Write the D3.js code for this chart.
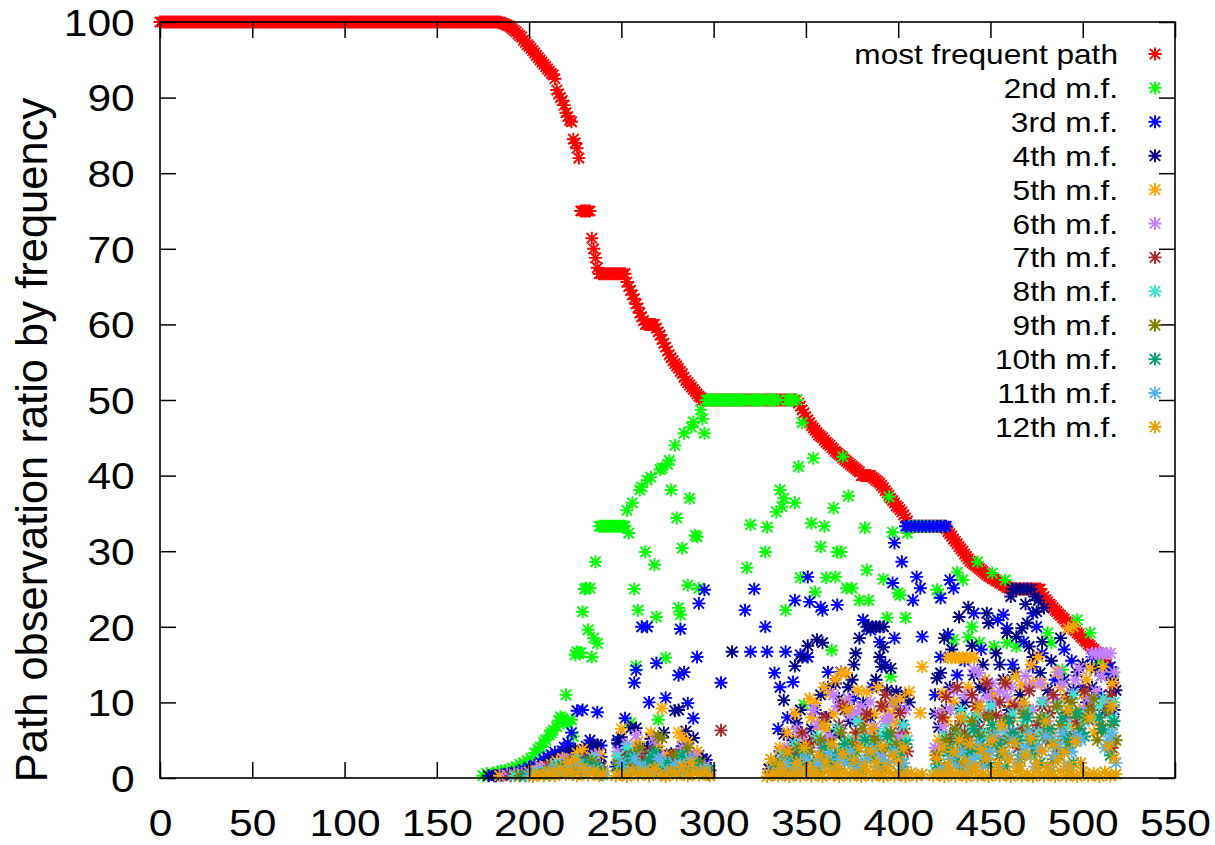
<!DOCTYPE html>
<html><head><meta charset="utf-8">
<script src="https://cdn.jsdelivr.net/npm/d3@7"></script>
<style>body{margin:0;background:#fff}svg{display:block}</style>
</head><body>
<svg id="chart" width="1215" height="845"></svg>
<script>
const seriesNames = ["most frequent path","2nd m.f.","3rd m.f.","4th m.f.","5th m.f.","6th m.f.","7th m.f.","8th m.f.","9th m.f.","10th m.f.","11th m.f.","12th m.f."];
const seriesColors = ["#ff0000","#00ff00","#0000ff","#00008b","#ffa500","#c080ff","#a52a2a","#40e0d0","#808000","#009e73","#56b4e9","#e69f00"];
const xTicks = [0,50,100,150,200,250,300,350,400,450,500,550];
const yTicks = [0,10,20,30,40,50,60,70,80,90,100];
const yAxisTitle = "Path observation ratio by frequency";

// most frequent path: constant runs [xStart, xEnd, value] and single points [x, value]
const mfRuns = [[0,184,100],[228,233,75],[238,252,66.7],[263,268,60],[294,345,50],[380,385,40],[406,425,33.3],[461,477,25]];
const mfPoints = [[185,99.9],[186,99.8],[187,99.7],[188,99.6],[189,99.5],[190,99.3],[191,99.1],[192,98.9],[193,98.7],[194,98.4],[195,98.2],[196,98.0],[197,97.6],[198,97.3],[199,97.0],[200,96.8],[201,96.5],[202,96.2],[203,95.9],[204,95.6],[205,95.3],[206,95.0],[207,94.7],[208,94.4],[209,94.1],[210,93.8],[211,93.5],[212,93.2],[213,93.0],[214,92.5],[215,91.0],[216,90.5],[217,90.0],[218,89.6],[219,89.0],[220,88.0],[221,87.5],[222,87.0],[223,86.8],[224,84.5],[225,84.0],[226,83.3],[227,82.0],[234,71.4],[235,70.0],[236,68.8],[237,67.5],[253,65.6],[254,65.0],[255,64.5],[256,63.9],[257,63.4],[258,62.7],[259,62.2],[260,61.5],[261,61.0],[262,60.5],[269,59.5],[270,59.0],[271,58.6],[272,58.0],[273,57.5],[274,57.0],[275,56.5],[276,56.0],[277,55.6],[278,55.2],[279,54.8],[280,54.5],[281,54.2],[282,53.8],[283,53.5],[284,53.0],[285,52.6],[286,52.3],[287,52.0],[288,51.7],[289,51.4],[290,51.1],[291,50.8],[292,50.5],[293,50.3],[346,49.6],[347,49.2],[348,48.7],[349,48.3],[350,47.8],[351,47.4],[352,47.0],[353,46.6],[354,46.3],[355,46.0],[356,45.7],[357,45.4],[358,45.2],[359,45.0],[360,44.7],[361,44.4],[362,44.2],[363,44.0],[364,43.7],[365,43.5],[366,43.2],[367,43.0],[368,42.8],[369,42.6],[370,42.3],[371,42.1],[372,41.9],[373,41.7],[374,41.5],[375,41.3],[376,41.1],[377,40.9],[378,40.7],[379,40.5],[386,39.8],[387,39.6],[388,39.4],[389,39.2],[390,39.0],[391,38.7],[392,38.4],[393,38.0],[394,37.7],[395,37.4],[396,37.0],[397,36.7],[398,36.4],[399,36.0],[400,35.8],[401,35.5],[402,35.2],[403,34.8],[404,34.4],[405,34.0],[426,33.0],[427,32.6],[428,32.3],[429,32.0],[430,31.6],[431,31.3],[432,31.0],[433,30.6],[434,30.3],[435,30.0],[436,29.6],[437,29.3],[438,29.0],[439,28.7],[440,28.5],[441,28.3],[442,28.1],[443,27.9],[444,27.7],[445,27.5],[446,27.3],[447,27.1],[448,26.9],[449,26.7],[450,26.6],[451,26.4],[452,26.3],[453,26.1],[454,26.0],[455,25.8],[456,25.7],[457,25.5],[458,25.4],[459,25.2],[460,25.1],[478,24.4],[479,24.0],[480,23.6],[481,23.3],[482,23.0],[483,22.8],[484,22.5],[485,22.2],[486,22.0],[487,21.7],[488,21.5],[489,21.2],[490,21.0],[491,20.7],[492,20.5],[493,20.2],[494,20.0],[495,19.7],[496,19.5],[497,19.2],[498,19.0],[499,18.7],[500,18.5],[501,18.2],[502,18.0],[503,17.7],[504,17.5],[505,17.2],[506,17.0],[507,16.7],[508,16.6],[509,16.5],[510,16.3],[511,16.0],[512,15.6],[513,15.2],[514,14.6],[515,14.0],[516,13.0],[517,12.0]];

const s2 = [[175,0.3],[177,0.6],[180,0.5],[183,0.8],[185,0.9],[187,1.0],[189,1.1],[191,1.3],[193,1.5],[195,1.8],[197,2.0],[199,2.3],[201,2.6],[203,3.3],[205,3.8],[206,4.1],[208,4.7],[209,5.0],[211,5.7],[212,6.0],[213,6.3],[215,6.8],[216,7.6],[217,8.1],[218,7.9],[219,7.3],[220,11.0],[221,7.2],[223,7.7],[224,5.5],[225,16.3],[226,16.7],[227,16.5],[228,16.6],[229,22.0],[230,25.0],[231,25.1],[232,19.6],[233,25.1],[234,16.0],[235,18.5],[236,28.6],[237,17.8],
[238,33.3],[239,33.3],[240,33.3],[241,33.3],[242,33.3],[243,33.3],[244,33.3],[245,33.3],[246,33.3],[247,33.3],[248,33.3],[249,33.3],[250,33.3],[251,33.3],[252,33.3],
[253,35.4],[254,32.4],[255,7.3],[256,36.4],[257,25.0],[258,14.8],[259,22.2],[260,38.1],[261,38.5],[263,29.9],[264,39.4],[266,39.8],[268,28.2],[269,21.3],[270,7.7],[271,40.8],[272,41.0],[274,15.9],[275,41.5],[276,42.0],[277,38.1],[279,44.0],[280,34.4],[281,22.5],[282,21.6],[283,30.4],[284,45.6],[286,25.5],[287,37.0],[288,46.4],[289,47.1],[290,32.1],[291,31.9],[292,25.1],[293,48.7],[294,47.5],[295,45.6],
[296,50],[297,50],[298,50],[299,50],[300,50],[301,50],[302,50],[303,50],[304,50],[305,50],[306,50],[307,50],[308,50],[309,50],[310,50],[311,50],[312,50],[313,50],[314,50],[315,50],[316,50],[317,50],[318,27.8],[319,50],[320,33.5],[321,50],[322,50],[323,50],[324,50],[325,50],[326,50],[327,50],[328,29.9],[329,33.2],[330,50],[331,50],[332,50],[333,50],[334,35.2],[335,50],[336,38.1],[337,35.9],[338,37.0],[339,22.2],[340,50],[341,50],[342,50],[343,50],[344,36.4],[345,50],
[346,41.2],[347,26.5],[348,47.0],[349,9.7],[353,33.7],[354,42.3],[355,24.6],[358,30.6],[360,33.3],[361,26.5],[364,16.9],[365,35.7],[366,26.6],[367,29.9],[369,29.9],[370,42.5],[372,25.1],[373,37.3],[375,25.1],[379,23.5],[382,33.1],[383,27.5],[384,23.5],[392,26.3],[394,21.2],[395,37.2],[396,13.4],[397,32.5],[400,24.5],[401,24.2],[404,21.2],[405,32.4],
[406,33.3],[408,33.3],[410,33.3],[412,33.3],[414,33.3],[416,33.3],[418,33.3],[420,33.3],[421,24.9],[422,24.4],[424,33.3],
[430,18.3],[432,27.2],[435,26.2],[438,18.6],[440,20.0],[443,28.6],[444,17.9],[451,27.1],[452,17.4],[458,26.2],[459,17.9],[464,17.4],[481,19.2],[483,17.9],[489,14.3],[497,20.9],[504,19.2],[509,15.2],[513,14.3],[516,13.9]];

const s3 = [[181,0.3],[185,0.4],[189,0.6],[193,0.8],[197,1.1],[200,1.4],[203,1.7],[206,2.1],[208,2.5],[210,2.8],[212,3.1],[214,3.4],[216,3.0],[218,3.6],[219,4.1],[221,4.6],[223,6.0],[224,3.7],[226,8.9],[228,3.6],[229,9.0],[231,4.2],[233,5.0],[235,3.5],[237,8.7],[239,4.3],
[248,5.0],[250,4.0],[252,7.9],[254,2.0],[257,12.6],[258,14.3],[261,20.0],[263,2.5],[264,20.0],[265,10.0],[267,4.0],[269,15.2],[272,2.0],[274,10.6],[276,3.0],[281,13.6],[282,19.7],[284,14.0],[286,9.9],[289,7.9],[291,16.0],[292,23.1],[293,1.5],[295,24.9],[296,2.4],
[304,12.6],[317,22.2],[320,16.7],[322,25.0],[328,20.0],[329,16.7],[331,1.0],[333,13.9],[335,6.5],[336,12.0],[339,16.7],[340,8.0],[343,12.7],[344,23.5],[345,3.0],[347,16.3],[351,16.0],[351,26.6],[352,23.3],[355,9.0],[358,22.6],[359,22.2],[362,14.0],[367,22.9],[368,6.0],[376,10.5],[381,20.9],[385,19.6],[386,12.0],[390,18.0],[393,15.0],[397,25.8],[398,31.1],[398,18.5],[400,9.5],[402,28.6],
[404,33.3],[405,33.3],[407,33.3],[409,33.3],[411,33.3],[413,33.3],[415,33.3],[417,33.3],[419,33.3],[421,33.3],[423,33.3],[425,33.3],[426,33.3],
[410,26.6],[412,25.1],[408,23.5],[413,18.7],[420,11.0],[423,23.8],[423,16.0],[427,19.0],[428,26.2],[430,25.1],[432,13.6],[436,15.5],[441,21.8],[445,17.0],[448,12.0],[454,20.9],[457,21.6],[459,19.8],[462,15.0],[468,18.0],[473,21.8],[473,14.7],[475,20.0],[478,16.5],[485,13.0],[490,17.0],[494,15.5],[500,12.0],[505,16.0],[510,11.0],[513,13.9],[515,14.7],[517,9.0]];

const s4 = [[178,0.3],[182,0.3],[186,0.4],[190,0.5],[196,0.7],[199,0.8],[201,1.0],[205,1.3],[207,1.5],[209,1.8],[212,2.2],[213,2.4],[215,2.6],[217,3.0],[218,1.6],[220,3.3],[222,2.9],[223,3.5],[225,3.8],[227,2.4],[228,1.8],[230,3.2],[232,4.0],[233,2.6],[235,4.4],[237,4.4],[238,1.5],[239,2.8],
[247,1.5],[248,4.6],[250,5.4],[252,2.8],[255,6.6],[257,1.2],[258,6.6],[262,3.4],[264,4.0],[266,5.2],[268,1.5],[270,3.6],[273,6.0],[275,2.4],[277,3.2],[279,8.9],[281,9.0],[283,4.2],[285,6.2],[287,1.8],[289,5.3],[292,3.0],[294,2.5],[296,1.4],[298,1.0],
[310,16.7],[330,1.2],[332,1.5],[334,1.0],[336,3.5],[338,10.3],[338,5.8],[341,1.4],[343,5.0],[344,14.8],[345,7.3],[347,9.0],[348,16.0],[350,4.7],[351,17.5],[353,6.5],[356,18.3],[358,11.0],[359,17.9],[361,8.0],[362,12.0],[365,6.0],[366,12.5],[368,10.5],[369,14.0],[371,9.0],[373,12.0],[374,7.5],[375,13.0],[376,15.0],[377,16.5],[379,18.5],[381,10.0],[383,20.0],[384,20.0],[385,8.0],[386,20.0],[388,20.0],[388,13.0],[390,20.0],[392,20.0],[390,16.0],[391,14.7],[392,17.3],[393,9.5],[394,11.6],[396,14.5],[399,11.4],[402,7.0],[404,11.0],[406,10.0],
[420,8.5],[421,13.2],[422,6.7],[423,13.9],[425,18.5],[426,9.0],[428,12.0],[429,17.0],[431,6.0],[433,21.3],[434,9.2],[436,10.0],[438,22.6],[440,17.5],[441,13.6],[443,8.0],[444,12.0],[446,15.0],[448,21.8],[448,11.4],[449,20.5],[451,10.5],[453,16.5],[455,15.0],[457,13.0],[459,19.2],[460,9.0],[461,24.0],[462,25.0],[463,14.0],[464,18.7],[464,25.0],[466,25.0],[466,11.0],[467,19.8],[468,25.0],[469,23.0],[470,25.0],[470,20.5],[471,17.4],[472,25.0],[473,16.0],[474,24.0],[475,22.0],[476,23.5],[477,13.9],[478,18.0],[479,22.5],[481,11.6],[483,15.5],[486,10.0],[488,18.5],[490,13.0],[492,11.0],[495,11.6],[497,14.0],[500,15.0],[502,10.0],[505,12.0],[507,14.5],[510,13.5],[512,9.0],[515,11.0],[516,13.0],[518,11.6]];

const s5 = [[184,0.3],[192,0.5],[200,0.8],[204,1.0],[207,1.4],[212,1.8],[215,2.2],[218,2.6],[222,2.0],[226,3.3],[229,3.8],[231,2.0],[234,2.8],[236,1.6],[238,3.2],[240,1.0],
[248,3.0],[250,6.5],[252,1.4],[256,3.8],[259,4.8],[261,2.2],[264,2.0],[266,6.0],[268,1.0],[270,4.2],[272,9.2],[275,3.0],[277,2.8],[279,1.8],[281,6.0],[283,5.3],[286,4.8],[289,2.6],[291,3.5],[293,1.5],[295,1.2],[297,0.8],
[330,0.6],[332,1.5],[334,2.0],[336,4.0],[338,3.5],[340,6.0],[342,2.5],[344,8.5],[346,5.6],[348,3.0],[350,4.4],[352,10.5],[353,8.0],[355,9.9],[357,7.0],[358,2.0],[360,12.0],[361,6.5],[363,11.2],[365,8.5],[366,13.0],[368,4.0],[369,13.9],[371,10.0],[372,13.9],[373,5.1],[375,9.0],[377,5.5],[378,11.6],[380,4.7],[381,8.0],[383,11.4],[385,5.5],[387,8.5],[389,12.0],[390,3.0],[392,9.5],[394,7.7],[396,5.5],[397,8.6],[399,7.3],[401,10.5],[402,5.0],[404,6.0],[406,11.4],[412,8.6],[413,14.7],
[420,3.0],[422,5.0],[424,11.2],[424,8.6],[426,7.5],[427,15.9],[429,15.9],[430,10.0],[431,15.9],[433,15.9],[434,5.5],[435,15.9],[437,15.9],[438,12.0],[439,15.9],[441,15.9],[443,8.5],[445,6.0],[447,13.0],[449,4.0],[450,9.0],[452,11.0],[455,5.0],[457,7.5],[459,12.7],[461,10.0],[462,8.0],[464,13.5],[467,12.3],[469,9.0],[470,5.5],[472,15.0],[473,12.6],[476,16.0],[478,12.5],[480,10.0],[482,8.5],[484,6.0],[486,14.0],[488,12.0],[490,10.5],[492,19.8],[494,7.0],[495,20.0],[498,9.0],[500,11.0],[502,13.0],[504,14.5],[506,6.0],[509,7.5],[511,14.7],[514,9.5],[516,12.5],[517,5.0]];

const s6 = [[188,0.4],[196,0.6],[203,0.9],[206,1.5],[210,1.2],[213,0.8],[216,1.6],[219,2.5],[224,1.0],[229,2.0],[234,1.5],[236,3.0],[239,0.8],
[248,3.5],[251,1.5],[253,4.5],[256,1.8],[258,5.7],[260,3.5],[262,1.0],[266,3.0],[268,5.0],[270,2.8],[274,1.2],[277,2.5],[280,1.5],[283,4.0],[286,2.2],[289,3.0],[292,1.0],[295,1.5],[298,0.6],
[332,0.8],[335,1.2],[337,2.5],[340,4.0],[342,1.8],[345,6.5],[348,5.7],[350,2.5],[352,3.5],[354,9.0],[356,7.0],[358,4.0],[360,5.0],[363,5.4],[365,11.0],[367,9.5],[369,6.5],[371,3.5],[373,10.5],[374,8.3],[376,4.5],[378,8.6],[380,9.5],[382,6.0],[385,10.0],[387,6.7],[389,5.0],[391,3.0],[393,7.5],[395,8.0],[397,10.0],[400,5.5],[402,6.5],[404,9.0],
[420,4.0],[422,8.5],[424,6.9],[426,4.5],[428,9.0],[430,11.5],[432,3.5],[434,7.5],[436,11.0],[438,5.5],[441,14.3],[443,10.0],[444,13.9],[446,6.0],[448,10.8],[449,8.6],[451,12.5],[453,9.9],[455,11.5],[456,7.9],[458,6.0],[459,10.8],[461,12.0],[463,6.0],[465,9.5],[467,9.0],[469,13.5],[471,12.0],[473,9.0],[475,7.0],[477,12.5],[479,10.0],[481,7.5],[483,5.0],[485,10.5],[487,14.0],[489,12.5],[492,8.0],[494,11.0],[496,13.0],[498,14.5],[499,6.5],[501,9.0],[503,10.5],[505,16.5],[507,11.5],[507,16.5],[509,16.5],[510,13.5],[511,16.5],[513,16.5],[513,10.0],[515,16.5],[516,8.0],[517,14.0]];

const s7 = [[190,0.3],[200,0.5],[204,0.6],[208,0.8],[211,1.5],[214,1.0],[217,0.8],[220,1.3],[223,1.8],[226,2.2],[230,2.6],[233,1.0],[236,2.0],[239,1.4],
[249,2.0],[252,3.0],[255,1.0],[258,2.0],[261,2.5],[265,3.5],[268,1.5],[271,1.2],[274,2.0],[278,3.0],[282,1.0],[286,2.4],[290,1.5],[293,1.0],[296,0.7],[304,6.3],
[333,0.8],[336,2.0],[339,1.5],[342,3.5],[345,2.5],[348,6.0],[351,4.0],[354,5.0],[357,2.0],[360,8.0],[363,4.5],[366,3.0],[368,7.0],[370,9.5],[372,3.5],[373,2.6],[375,4.6],[377,6.0],[380,7.5],[383,8.5],[386,3.0],[389,5.5],[391,9.5],[393,11.0],[396,6.0],[398,4.0],[401,8.6],[403,6.5],[405,3.5],
[421,2.5],[424,8.0],[426,10.7],[428,5.5],[430,5.0],[432,12.0],[434,7.5],[436,6.0],[438,4.9],[440,11.0],[442,9.5],[444,6.5],[446,3.5],[448,12.5],[449,8.3],[451,5.5],[453,8.3],[455,10.0],[457,5.0],[458,12.5],[460,7.9],[463,9.5],[465,4.0],[467,6.5],[469,9.0],[471,11.5],[473,6.0],[476,7.0],[478,9.5],[480,5.0],[482,8.6],[484,11.0],[486,4.0],[489,6.0],[491,8.6],[493,10.5],[495,5.5],[497,7.5],[501,11.5],[503,7.7],[505,9.0],[510,6.5],[513,9.0],[515,11.0],[516,4.0]];

const s8 = [[192,0.3],[202,0.5],[206,0.8],[210,0.8],[214,1.8],[217,1.0],[220,0.6],[223,1.4],[226,2.4],[228,0.8],[232,1.8],[235,2.6],[237,1.2],[240,0.8],
[248,2.8],[250,1.5],[253,4.0],[256,2.5],[260,1.8],[263,0.8],[267,3.0],[270,1.5],[274,2.0],[278,0.9],[282,2.8],[285,1.2],[289,1.5],[293,0.6],[296,1.0],
[333,1.5],[335,0.7],[338,3.0],[341,1.5],[344,4.5],[347,2.2],[350,3.5],[353,1.5],[356,5.5],[360,3.0],[362,4.0],[365,2.6],[367,6.5],[370,4.0],[373,5.0],[376,2.0],[378,7.5],[381,5.1],[384,4.0],[387,2.5],[390,5.7],[393,6.5],[396,4.6],[399,3.5],[401,2.5],[403,7.0],[405,5.0],
[420,1.0],[422,2.0],[425,5.5],[427,4.0],[430,3.0],[432,6.0],[434,9.0],[436,7.9],[438,4.0],[440,6.6],[442,8.0],[444,3.0],[446,6.0],[448,5.5],[450,9.5],[453,4.4],[455,6.5],[456,7.0],[459,5.3],[462,8.5],[464,4.9],[466,5.5],[468,7.5],[470,9.0],[472,3.0],[474,5.0],[476,6.0],[478,10.0],[480,8.0],[482,6.0],[485,4.5],[487,9.5],[489,6.5],[491,7.0],[493,9.0],[495,11.0],[497,5.0],[499,8.5],[501,7.5],[507,8.0],[509,9.5],[511,10.5],[514,6.0],[516,8.0],[517,10.0]];

const s9 = [[195,0.3],[205,0.5],[209,0.6],[213,0.8],[216,1.4],[219,1.2],[222,2.0],[225,0.8],[228,1.0],[230,1.5],[234,2.2],[238,0.7],
[248,1.8],[251,1.2],[254,2.4],[257,3.0],[260,4.0],[264,1.0],[267,2.0],[270,5.5],[272,5.3],[276,1.0],[279,3.0],[283,0.8],[286,4.0],[290,1.2],[293,2.0],[297,0.5],
[334,1.5],[337,0.6],[340,3.0],[343,1.2],[346,4.0],[349,2.0],[352,3.5],[355,1.0],[358,5.0],[361,2.5],[364,4.5],[366,1.5],[369,6.0],[372,3.0],[375,4.5],[378,2.0],[381,6.5],[384,3.5],[387,5.0],[389,1.5],[393,4.0],[396,6.0],[399,4.4],[401,3.5],[403,2.0],
[421,3.0],[423,1.5],[426,5.0],[428,3.5],[431,6.5],[433,2.0],[435,4.0],[437,5.5],[440,7.5],[442,4.0],[444,5.5],[446,2.0],[449,8.0],[451,6.0],[453,4.5],[455,3.0],[458,7.5],[460,5.0],[463,5.5],[466,2.5],[468,8.5],[470,6.5],[472,4.5],[474,3.5],[477,8.0],[479,5.5],[481,6.0],[484,2.5],[486,9.5],[488,7.0],[490,5.5],[492,4.0],[494,10.0],[496,8.5],[498,6.5],[502,8.0],[504,9.0],[506,10.5],[508,5.0],[510,6.5],[514,9.0],[516,7.0],[518,5.0]];

const s10 = [[198,0.3],[208,0.5],[211,0.4],[215,0.7],[218,1.6],[221,1.0],[224,0.9],[227,0.6],[230,2.2],[233,1.2],[236,1.5],[239,0.5],
[249,1.0],[252,2.0],[255,3.0],[258,1.0],[262,1.6],[265,2.4],[268,3.5],[271,0.8],[275,2.0],[279,1.0],[283,3.0],[287,0.6],[290,2.0],[294,0.9],[297,1.0],
[333,0.5],[337,2.0],[339,0.5],[342,2.5],[345,1.0],[348,3.5],[351,1.5],[354,2.0],[357,0.8],[360,4.0],[363,2.0],[366,3.0],[368,1.2],[371,4.5],[374,2.5],[377,3.5],[380,1.0],[382,5.0],[385,3.0],[388,4.0],[391,1.5],[394,5.5],[397,3.5],[400,3.0],[402,1.0],[404,4.5],
[421,1.8],[425,1.2],[427,3.5],[430,2.5],[432,5.0],[435,1.5],[437,3.0],[439,3.5],[441,6.5],[444,5.0],[446,4.0],[449,2.0],[451,7.0],[454,4.5],[456,3.5],[458,1.5],[460,7.5],[462,6.0],[465,5.0],[467,3.0],[470,8.0],[472,5.0],[474,4.0],[477,2.0],[479,7.5],[482,6.5],[484,4.5],[487,3.0],[489,8.0],[491,5.5],[493,4.0],[495,2.0],[497,8.5],[499,6.0],[501,5.5],[509,8.0],[511,6.5],[515,3.0],[517,7.5]];

const s11 = [[200,0.3],[205,0.6],[211,0.5],[214,1.0],[218,0.8],[221,1.5],[224,0.5],[227,1.8],[231,1.0],[235,1.0],[240,0.4],
[250,2.0],[253,0.8],[257,2.6],[260,1.5],[263,1.2],[267,0.6],[270,2.5],[275,1.0],[279,1.8],[284,0.5],[287,2.5],[291,0.8],[295,1.2],
[335,0.8],[339,2.0],[341,0.5],[344,1.5],[347,1.0],[350,2.5],[353,0.7],[356,2.0],[359,1.5],[362,3.0],[365,0.8],[368,2.5],[371,2.0],[374,3.5],[377,1.0],[380,2.0],[383,2.5],[386,3.8],[389,1.0],[392,2.5],[395,2.0],[398,3.5],[400,0.8],[403,2.0],
[423,1.2],[426,0.8],[428,2.5],[431,1.5],[434,3.5],[437,1.0],[439,2.0],[441,2.5],[443,4.5],[446,1.5],[448,3.0],[450,3.5],[452,5.5],[455,1.0],[457,3.5],[460,3.0],[462,5.0],[465,1.5],[467,3.0],[469,4.0],[471,6.0],[474,1.5],[476,4.0],[478,3.5],[480,5.5],[483,1.0],[485,3.0],[487,4.5],[489,6.0],[492,1.5],[494,3.5],[497,5.5],[499,5.0],[512,4.0],[514,5.0],[516,6.0],[518,2.0]];

const s12 = [[202,0.2],[205,0.5],[208,0.3],[211,0.8],[214,0.3],[217,1.2],[220,0.5],[221,2.1],[223,0.9],[225,2.4],[226,0.3],[229,1.3],[232,0.4],[235,0.9],[238,0.3],[240,0.6],
[247,0.3],[250,0.6],[253,0.2],[256,1.0],[259,0.4],[262,0.8],[265,0.3],[268,1.2],[271,0.5],[274,0.2],[277,0.9],[280,0.4],[283,1.5],[286,0.3],[288,2.0],[289,0.7],[292,0.4],[295,0.9],[298,0.3],
[329,0.2],[331,2.5],[332,0.5],[335,0.3],[336,1.8],[338,0.8],[340,3.5],[341,0.2],[344,0.6],[345,2.0],[347,0.3],[349,4.0],[350,1.0],[352,1.5],[353,0.3],[356,0.7],[357,3.0],[359,0.2],[360,7.0],[361,2.2],[362,0.9],[364,4.5],[365,0.4],[367,1.5],[368,0.2],[370,3.2],[371,0.8],[372,9.0],[374,0.3],[376,2.4],[377,0.6],[379,4.0],[380,0.2],[382,1.6],[383,0.9],[385,3.5],[386,0.3],[386,6.5],[388,2.0],[389,0.6],[391,4.2],[392,0.2],[394,1.5],[395,0.8],[397,3.0],[398,0.3],[398,10.0],[400,2.2],[401,0.5],[403,4.0],[404,0.2],[407,0.7],[410,0.3],[413,0.5],
[419,0.3],[421,2.5],[422,0.6],[424,4.0],[425,0.2],[427,1.8],[428,0.8],[430,3.5],[431,0.3],[433,5.0],[434,0.6],[434,8.0],[436,2.2],[437,0.2],[439,4.5],[440,0.9],[442,1.5],[443,0.3],[444,9.5],[445,3.8],[446,0.5],[448,2.6],[449,0.2],[451,5.0],[452,0.8],[454,1.8],[455,0.3],[456,7.0],[457,3.5],[458,0.6],[460,2.4],[461,0.2],[463,4.6],[464,0.9],[466,1.6],[467,0.3],[468,10.0],[469,3.0],[470,0.5],[472,5.2],[473,0.2],[475,2.0],[476,0.8],[478,3.6],[479,0.3],[480,7.5],[481,1.5],[482,0.6],[484,4.4],[485,0.2],[487,2.4],[488,0.9],[490,3.4],[491,0.3],[492,9.0],[493,1.6],[494,0.5],[496,4.8],[497,0.2],[499,2.0],[500,0.8],[503,0.3],[504,8.0],[506,0.6],[509,0.2],[512,0.8],[514,4.2],[515,0.3],[516,9.5],[517,2.6],[518,0.5]];

const svg = d3.select("#chart");
const x = d3.scaleLinear().domain([0,550]).range([160,1175]);
const y = d3.scaleLinear().domain([0,100]).range([778,22]);

// assemble series
const mfData = [];
mfRuns.forEach(([a,b,v]) => { for (let i=a;i<=b;i++) mfData.push([i,v]); });
mfPoints.forEach(p => mfData.push(p));
mfData.sort((a,b)=>a[0]-b[0]);
const allSeries = [mfData,s2,s3,s4,s5,s6,s7,s8,s9,s10,s11,s12];

const R = 6.5, D = 5.2;
const star = `M${-R},0H${R}M0,${-R}V${R}M${-D},${-D}L${D},${D}M${-D},${D}L${D},${-D}`;

const plot = svg.append("g");
allSeries.forEach((data,i) => {
  plot.append("g").selectAll("path").data(data).join("path")
    .attr("transform", d => `translate(${x(d[0])},${y(d[1])})`)
    .attr("d", star)
    .attr("fill","none").attr("stroke", seriesColors[i]).attr("stroke-width",1.9);
});

// axes
const font = "'Liberation Sans', Arial, sans-serif";
const xAxis = svg.append("g").attr("transform","translate(0,778)")
  .call(d3.axisBottom(x).tickValues(xTicks).tickSize(-16).tickPadding(31).tickFormat(d3.format("d")));
const xTop = svg.append("g").attr("transform","translate(0,22)")
  .call(d3.axisTop(x).tickValues(xTicks).tickSize(-16).tickFormat(""));
const yAxis = svg.append("g").attr("transform","translate(160,0)")
  .call(d3.axisLeft(y).tickValues(yTicks).tickSize(-16).tickPadding(26).tickFormat(d3.format("d")));
const yRight = svg.append("g").attr("transform","translate(1175,0)")
  .call(d3.axisRight(y).tickValues(yTicks).tickSize(-16).tickFormat(""));
[xAxis,xTop,yAxis,yRight].forEach(g => {
  g.select(".domain").remove();
  g.selectAll("line").attr("stroke","#000").attr("stroke-width",1.5);
});
xAxis.selectAll("text").attr("font-family",font).attr("font-size",37).attr("fill","#000")
  .attr("dy",null).attr("y",58).attr("transform","scale(1.15,1)");
yAxis.selectAll("text").attr("font-family",font).attr("font-size",37).attr("fill","#000")
  .attr("dy","0.36em").attr("x",-22).attr("transform","scale(1.15,1)");

svg.append("rect").attr("x",160).attr("y",22).attr("width",1015).attr("height",756)
  .attr("fill","none").attr("stroke","#000").attr("stroke-width",1.6);

svg.append("text").attr("transform","translate(47,440) rotate(-90)")
  .attr("text-anchor","middle").attr("font-family",font).attr("font-size",43.5).attr("fill","#000")
  .text(yAxisTitle);

// legend
const legend = svg.append("g");
seriesNames.forEach((name,i) => {
  const ly = 54 + 33.9*i;
  legend.append("text").attr("transform",`translate(1118,${ly}) scale(1.13,1)`)
    .attr("text-anchor","end").attr("dy","0.36em").attr("font-family",font).attr("font-size",28)
    .attr("fill","#000").text(name);
  legend.append("path").attr("transform",`translate(1155,${ly})`).attr("d",star)
    .attr("fill","none").attr("stroke",seriesColors[i]).attr("stroke-width",1.9);
});
</script>
</body></html>
